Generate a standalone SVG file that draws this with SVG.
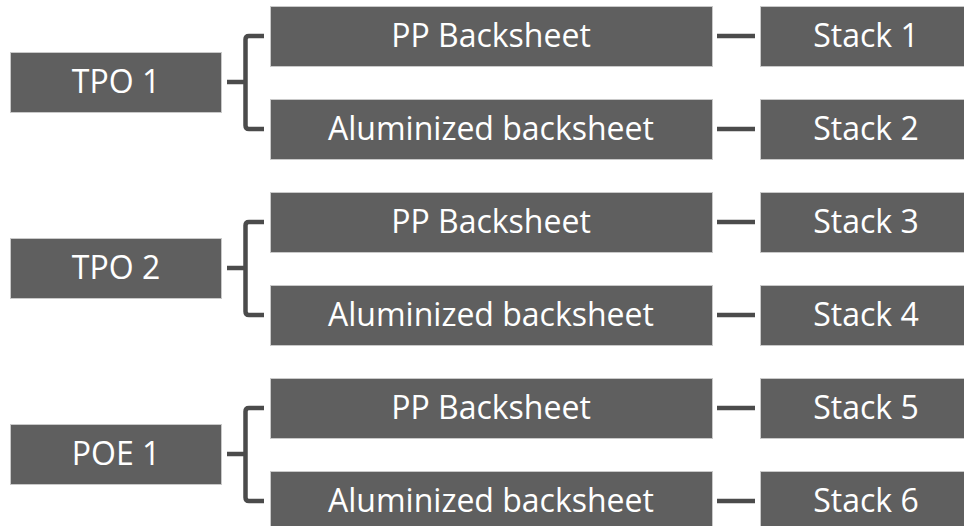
<svg xmlns="http://www.w3.org/2000/svg" width="964" height="526" viewBox="0 0 964 526">
<style>
.box{fill:#5f5f5f;stroke:#c9c9c9;stroke-width:1}
.t{fill:#ffffff;font-family:"Open Sans","Liberation Sans",sans-serif;font-size:32px;text-anchor:middle}
.c{fill:none;stroke:#4b4b4b;stroke-width:4.5;stroke-linejoin:round}
</style>
<rect width="964" height="526" fill="#ffffff"/>
<g id="connectors">
<path class="c" d="M227 82H245.5M264 36H249Q245.5 36 245.5 39.5V125.5Q245.5 129 249 129H264"/>
<path class="c" d="M717 36H755M717 129H755"/>
<path class="c" d="M227 268H245.5M264 222H249Q245.5 222 245.5 225.5V311.5Q245.5 315 249 315H264"/>
<path class="c" d="M717 222H755M717 315H755"/>
<path class="c" d="M227 454H245.5M264 408H249Q245.5 408 245.5 411.5V497.5Q245.5 501 249 501H264"/>
<path class="c" d="M717 408H755M717 501H755"/>
</g>
<g id="tpo1"><rect class="box" x="10.5" y="52.5" width="211" height="60"/><text class="t" x="116" y="93">TPO 1</text></g>
<g id="pp1"><rect class="box" x="270.5" y="6.5" width="442" height="60"/><text class="t" x="491" y="47">PP Backsheet</text></g>
<g id="alu1"><rect class="box" x="270.5" y="99.5" width="442" height="60"/><text class="t" x="491" y="140">Aluminized backsheet</text></g>
<g id="stack1"><rect class="box" x="760.5" y="6.5" width="211" height="60"/><text class="t" x="866" y="47">Stack 1</text></g>
<g id="stack2"><rect class="box" x="760.5" y="99.5" width="211" height="60"/><text class="t" x="866" y="140">Stack 2</text></g>
<g id="tpo2"><rect class="box" x="10.5" y="238.5" width="211" height="60"/><text class="t" x="116" y="279">TPO 2</text></g>
<g id="pp2"><rect class="box" x="270.5" y="192.5" width="442" height="60"/><text class="t" x="491" y="233">PP Backsheet</text></g>
<g id="alu2"><rect class="box" x="270.5" y="285.5" width="442" height="60"/><text class="t" x="491" y="326">Aluminized backsheet</text></g>
<g id="stack3"><rect class="box" x="760.5" y="192.5" width="211" height="60"/><text class="t" x="866" y="233">Stack 3</text></g>
<g id="stack4"><rect class="box" x="760.5" y="285.5" width="211" height="60"/><text class="t" x="866" y="326">Stack 4</text></g>
<g id="poe1"><rect class="box" x="10.5" y="424.5" width="211" height="60"/><text class="t" x="116" y="465">POE 1</text></g>
<g id="pp3"><rect class="box" x="270.5" y="378.5" width="442" height="60"/><text class="t" x="491" y="419">PP Backsheet</text></g>
<g id="alu3"><rect class="box" x="270.5" y="471.5" width="442" height="60"/><text class="t" x="491" y="512">Aluminized backsheet</text></g>
<g id="stack5"><rect class="box" x="760.5" y="378.5" width="211" height="60"/><text class="t" x="866" y="419">Stack 5</text></g>
<g id="stack6"><rect class="box" x="760.5" y="471.5" width="211" height="60"/><text class="t" x="866" y="512">Stack 6</text></g>
</svg>
